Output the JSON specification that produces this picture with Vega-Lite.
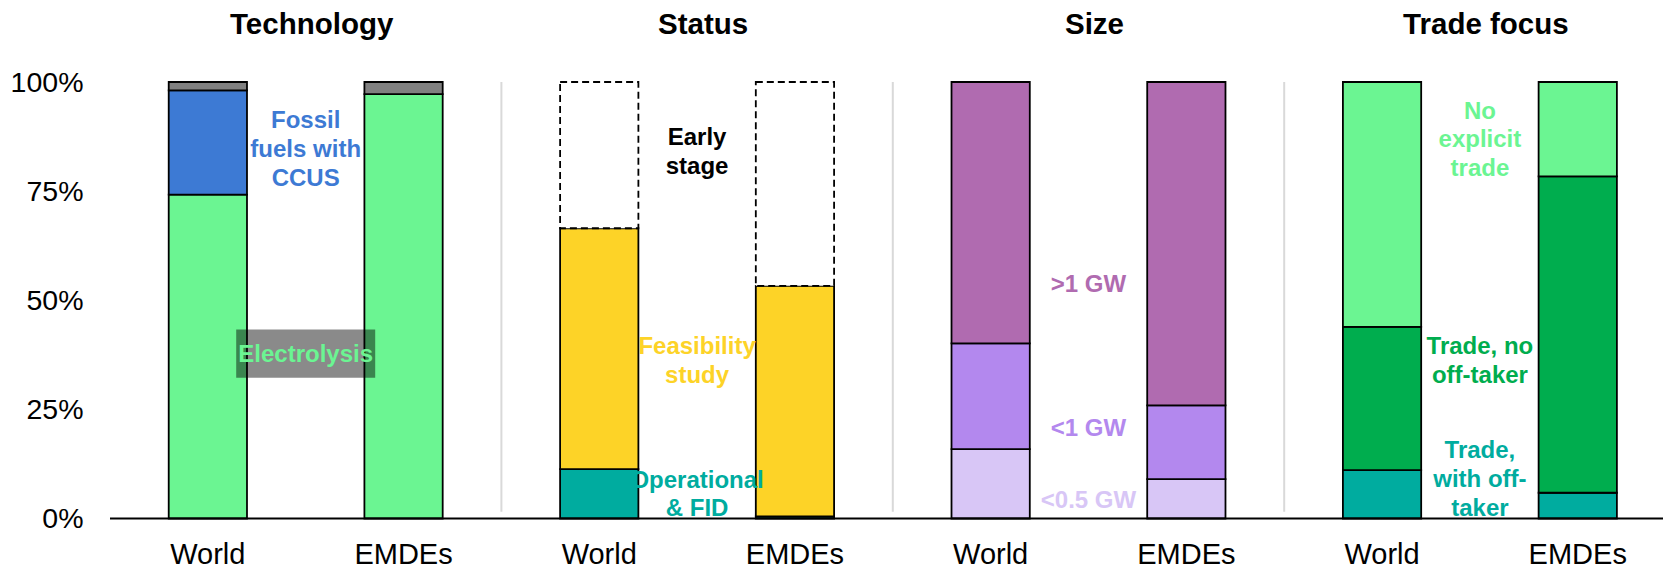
{
  "$schema": "https://vega.github.io/schema/vega-lite/v6.json",
  "width": 1553,
  "height": 436.5,
  "autosize": {"type": "none"},
  "padding": {"left": 110, "top": 82, "right": 0, "bottom": 50.5},
  "background": "white",
  "config": {
    "font": "Liberation Sans",
    "view": {"stroke": null},
    "axis": {"tickSize": 0}
  },
  "datasets": {
    "bars": [
      {"group": "Technology", "region": "World", "category": "Electrolysis", "share": 0.742},
      {"group": "Technology", "region": "World", "category": "Fossil fuels with CCUS", "share": 0.239},
      {"group": "Technology", "region": "World", "category": "Other", "share": 0.019},
      {"group": "Technology", "region": "EMDEs", "category": "Electrolysis", "share": 0.972},
      {"group": "Technology", "region": "EMDEs", "category": "Other", "share": 0.028},
      {"group": "Status", "region": "World", "category": "Operational & FID", "share": 0.113},
      {"group": "Status", "region": "World", "category": "Feasibility study", "share": 0.552},
      {"group": "Status", "region": "World", "category": "Early stage", "share": 0.335},
      {"group": "Status", "region": "EMDEs", "category": "Operational & FID", "share": 0.005},
      {"group": "Status", "region": "EMDEs", "category": "Feasibility study", "share": 0.528},
      {"group": "Status", "region": "EMDEs", "category": "Early stage", "share": 0.467},
      {"group": "Size", "region": "World", "category": "<0.5 GW", "share": 0.159},
      {"group": "Size", "region": "World", "category": "<1 GW", "share": 0.242},
      {"group": "Size", "region": "World", "category": ">1 GW", "share": 0.599},
      {"group": "Size", "region": "EMDEs", "category": "<0.5 GW", "share": 0.090},
      {"group": "Size", "region": "EMDEs", "category": "<1 GW", "share": 0.169},
      {"group": "Size", "region": "EMDEs", "category": ">1 GW", "share": 0.741},
      {"group": "Trade focus", "region": "World", "category": "Trade, with off-taker", "share": 0.111},
      {"group": "Trade focus", "region": "World", "category": "Trade, no off-taker", "share": 0.328},
      {"group": "Trade focus", "region": "World", "category": "No explicit trade", "share": 0.561},
      {"group": "Trade focus", "region": "EMDEs", "category": "Trade, with off-taker", "share": 0.059},
      {"group": "Trade focus", "region": "EMDEs", "category": "Trade, no off-taker", "share": 0.725},
      {"group": "Trade focus", "region": "EMDEs", "category": "No explicit trade", "share": 0.216}
    ],
    "labels": [
      {"group": "Technology", "category": "Fossil fuels with CCUS", "label": "Fossil\nfuels with\nCCUS", "at": 0.910},
      {"group": "Technology", "category": "Electrolysis", "label": "Electrolysis", "at": 0.374},
      {"group": "Status", "category": "Early stage", "label": "Early\nstage", "at": 0.871},
      {"group": "Status", "category": "Feasibility study", "label": "Feasibility\nstudy", "at": 0.393},
      {"group": "Status", "category": "Operational & FID", "label": "Operational\n& FID", "at": 0.087},
      {"group": "Size", "category": ">1 GW", "label": ">1 GW", "at": 0.536},
      {"group": "Size", "category": "<1 GW", "label": "<1 GW", "at": 0.206},
      {"group": "Size", "category": "<0.5 GW", "label": "<0.5 GW", "at": 0.040},
      {"group": "Trade focus", "category": "No explicit trade", "label": "No\nexplicit\ntrade", "at": 0.932},
      {"group": "Trade focus", "category": "Trade, no off-taker", "label": "Trade, no\noff-taker", "at": 0.393},
      {"group": "Trade focus", "category": "Trade, with off-taker", "label": "Trade,\nwith off-\ntaker", "at": 0.154}
    ]
  },
  "layer": [
    {
      "data": {"name": "bars"},
      "transform": [
        {"aggregate": [{"op": "count", "as": "n"}], "groupby": ["group"]},
        {"filter": "datum.group !== 'Technology'"}
      ],
      "mark": {"type": "rule", "stroke": "#D9D9D9", "strokeWidth": 2},
      "encoding": {
        "x": {"field": "group", "type": "nominal", "bandPosition": 0, "title": null},
        "y": {"datum": 1},
        "y2": {"datum": 0.0156}
      }
    },
    {
      "data": {"name": "bars"},
      "transform": [{"window": [{"op": "row_number", "as": "stackRank"}]}],
      "mark": {"type": "bar", "stroke": "#000000", "strokeWidth": 1.8},
      "encoding": {
        "x": {
          "field": "group",
          "type": "nominal",
          "title": null,
          "scale": {
            "domain": ["Technology", "Status", "Size", "Trade focus"],
            "range": [0, 1565.6],
            "paddingInner": 0,
            "paddingOuter": 0
          },
          "axis": {
            "orient": "top",
            "domain": false,
            "ticks": false,
            "grid": false,
            "labelAngle": 0,
            "labelAlign": "center",
            "labelFontSize": 29.5,
            "labelFontWeight": "bold",
            "labelColor": "#000000",
            "labelPadding": 57.5,
            "labelOffset": 6,
            "title": null
          }
        },
        "xOffset": {
          "field": "region",
          "type": "nominal",
          "scale": {"domain": ["World", "EMDEs"], "paddingInner": 0.6, "paddingOuter": 0.3}
        },
        "y": {
          "field": "share",
          "type": "quantitative",
          "stack": "zero",
          "title": null,
          "scale": {"domain": [0, 1], "nice": false},
          "axis": {
            "values": [0, 0.25, 0.5, 0.75, 1],
            "format": ".0%",
            "domain": false,
            "ticks": false,
            "labelFontSize": 28.5,
            "labelColor": "#000000",
            "labelPadding": 27,
            "gridColor": "#D9D9D9",
            "gridWidth": 2,
            "title": null
          }
        },
        "color": {
          "field": "category",
          "type": "nominal",
          "legend": null,
          "scale": {
            "domain": ["Electrolysis", "Fossil fuels with CCUS", "Other", "Operational & FID", "Feasibility study", "Early stage", "<0.5 GW", "<1 GW", ">1 GW", "Trade, with off-taker", "Trade, no off-taker", "No explicit trade"],
            "range": ["#6BF592", "#3D7AD4", "#808080", "#00AC9F", "#FDD327", "#FFFFFF", "#D8C6F6", "#B388EE", "#B06BB0", "#00AC9F", "#00AD4E", "#6BF592"]
          }
        },
        "order": {"field": "stackRank", "type": "quantitative"},
        "strokeDash": {
          "condition": {"test": "datum.category === 'Early stage'", "value": [7, 4]},
          "value": [1, 0]
        }
      }
    },
    {
      "data": {"name": "labels"},
      "transform": [{"filter": "datum.category === 'Electrolysis'"}],
      "mark": {"type": "bar", "width": 139, "fill": "#000000", "fillOpacity": 0.46},
      "encoding": {
        "x": {"field": "group", "type": "nominal", "title": null},
        "y": {"datum": 0.4328},
        "y2": {"datum": 0.3223}
      }
    },
    {
      "data": {"name": "labels"},
      "mark": {
        "type": "text",
        "fontSize": 24,
        "fontWeight": "bold",
        "lineBreak": "\n",
        "lineHeight": 28.8,
        "align": "center",
        "baseline": "middle"
      },
      "encoding": {
        "x": {"field": "group", "type": "nominal", "title": null},
        "y": {"field": "at", "type": "quantitative", "title": null},
        "text": {"field": "label"},
        "color": {
          "condition": {"test": "datum.category === 'Early stage'", "value": "#000000"},
          "field": "category",
          "type": "nominal",
          "legend": null
        }
      }
    },
    {
      "data": {"values": [{}]},
      "mark": {"type": "rule", "stroke": "#000000", "strokeWidth": 2},
      "encoding": {"y": {"datum": 0}}
    },
    {
      "data": {"name": "bars"},
      "transform": [{"aggregate": [{"op": "count", "as": "n"}], "groupby": ["group", "region"]}],
      "mark": {"type": "text", "fontSize": 29, "color": "#000000", "baseline": "alphabetic", "align": "center"},
      "encoding": {
        "x": {"field": "group", "type": "nominal", "title": null},
        "xOffset": {"field": "region", "type": "nominal"},
        "y": {"datum": -0.1047},
        "text": {"field": "region"}
      }
    }
  ]
}
